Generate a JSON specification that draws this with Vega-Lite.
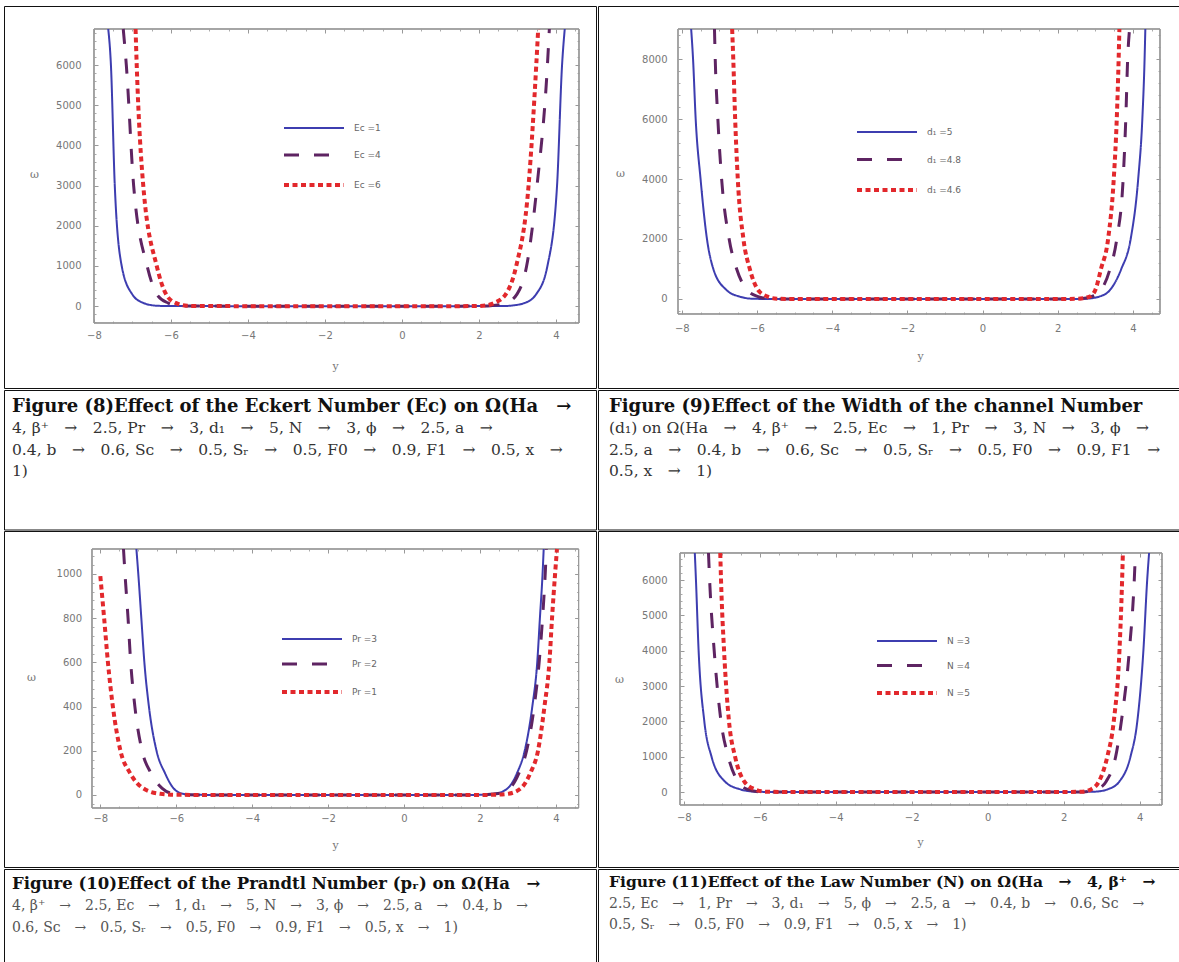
{
"$schema": "https://vega.github.io/schema/vega-lite/v6.json",
"padding": {"left": 3, "top": 5, "right": 0, "bottom": 0},
"background": "white",
"spacing": 0,
"resolve": {"scale": {"color": "independent", "strokeDash": "independent", "strokeWidth": "independent"}, "legend": {"color": "independent", "strokeDash": "independent", "strokeWidth": "independent"}},
"config": {
 "view": {"stroke": "#111", "strokeWidth": 1},
 "concat": {"spacing": 0},
 "axis": {"domain": false, "grid": false, "tickSize": -4, "tickColor": "#999", "labelFont": "DejaVu Sans", "labelFontSize": 10, "labelColor": "#777", "titleFont": "DejaVu Serif", "titleFontSize": 11, "titleFontWeight": "normal", "titleColor": "#777", "labelPadding": 12, "titleAlign": "center", "titleBaseline": "middle", "titleAngle": 0},
 "legend": {"orient": "none", "title": null, "symbolType": "M-6,0H6", "symbolSize": 100, "labelFont": "DejaVu Sans", "labelFontSize": 9, "labelColor": "#666", "labelOffset": 33, "padding": 0}
},
"datasets": {
"f8": [
{"s":"Ec =1","y":-7.63,"w":6900},{"s":"Ec =1","y":-7.56,"w":6000},{"s":"Ec =1","y":-7.46,"w":3000},{"s":"Ec =1","y":-7.28,"w":1000},{"s":"Ec =1","y":-7.01,"w":300},{"s":"Ec =1","y":-6.72,"w":80},{"s":"Ec =1","y":-6.37,"w":10},{"s":"Ec =1","y":-6.0,"w":1},{"s":"Ec =1","y":-4,"w":0},{"s":"Ec =1","y":-2,"w":0},{"s":"Ec =1","y":0,"w":0},{"s":"Ec =1","y":1.5,"w":0},{"s":"Ec =1","y":2.6,"w":1},{"s":"Ec =1","y":2.8,"w":10},{"s":"Ec =1","y":3.19,"w":80},{"s":"Ec =1","y":3.49,"w":300},{"s":"Ec =1","y":3.78,"w":1000},{"s":"Ec =1","y":4.03,"w":3000},{"s":"Ec =1","y":4.16,"w":6000},{"s":"Ec =1","y":4.23,"w":6900},
{"s":"Ec =4","y":-7.24,"w":6900},{"s":"Ec =4","y":-7.16,"w":6000},{"s":"Ec =4","y":-6.97,"w":3000},{"s":"Ec =4","y":-6.62,"w":1000},{"s":"Ec =4","y":-6.37,"w":300},{"s":"Ec =4","y":-6.08,"w":80},{"s":"Ec =4","y":-5.78,"w":10},{"s":"Ec =4","y":-5.4,"w":1},{"s":"Ec =4","y":-4,"w":0},{"s":"Ec =4","y":-2,"w":0},{"s":"Ec =4","y":0,"w":0},{"s":"Ec =4","y":1.5,"w":0},{"s":"Ec =4","y":2.1,"w":1},{"s":"Ec =4","y":2.3,"w":10},{"s":"Ec =4","y":2.7,"w":80},{"s":"Ec =4","y":2.99,"w":300},{"s":"Ec =4","y":3.24,"w":1000},{"s":"Ec =4","y":3.51,"w":3000},{"s":"Ec =4","y":3.78,"w":6000},{"s":"Ec =4","y":3.83,"w":6900},
{"s":"Ec =6","y":-6.92,"w":6900},{"s":"Ec =6","y":-6.89,"w":6000},{"s":"Ec =6","y":-6.72,"w":3000},{"s":"Ec =6","y":-6.37,"w":1000},{"s":"Ec =6","y":-6.13,"w":300},{"s":"Ec =6","y":-5.88,"w":80},{"s":"Ec =6","y":-5.58,"w":10},{"s":"Ec =6","y":-5.2,"w":1},{"s":"Ec =6","y":-4,"w":0},{"s":"Ec =6","y":-2,"w":0},{"s":"Ec =6","y":0,"w":0},{"s":"Ec =6","y":1.5,"w":0},{"s":"Ec =6","y":1.8,"w":1},{"s":"Ec =6","y":2.11,"w":10},{"s":"Ec =6","y":2.4,"w":80},{"s":"Ec =6","y":2.7,"w":300},{"s":"Ec =6","y":2.97,"w":1000},{"s":"Ec =6","y":3.29,"w":3000},{"s":"Ec =6","y":3.49,"w":6000},{"s":"Ec =6","y":3.54,"w":6900}
],
"f9": [
{"s":"d₁ =5","y":-7.75,"w":9000},{"s":"d₁ =5","y":-7.7,"w":8000},{"s":"d₁ =5","y":-7.63,"w":6000},{"s":"d₁ =5","y":-7.5,"w":4000},{"s":"d₁ =5","y":-7.33,"w":2000},{"s":"d₁ =5","y":-7.16,"w":1000},{"s":"d₁ =5","y":-6.81,"w":300},{"s":"d₁ =5","y":-6.46,"w":80},{"s":"d₁ =5","y":-6.12,"w":10},{"s":"d₁ =5","y":-5.7,"w":1},{"s":"d₁ =5","y":-4,"w":0},{"s":"d₁ =5","y":-2,"w":0},{"s":"d₁ =5","y":0,"w":0},{"s":"d₁ =5","y":1.5,"w":0},{"s":"d₁ =5","y":2.4,"w":1},{"s":"d₁ =5","y":2.75,"w":10},{"s":"d₁ =5","y":3.1,"w":80},{"s":"d₁ =5","y":3.39,"w":300},{"s":"d₁ =5","y":3.69,"w":1000},{"s":"d₁ =5","y":3.94,"w":2000},{"s":"d₁ =5","y":4.14,"w":4000},{"s":"d₁ =5","y":4.25,"w":6000},{"s":"d₁ =5","y":4.31,"w":8000},{"s":"d₁ =5","y":4.33,"w":9000},
{"s":"d₁ =4.8","y":-7.13,"w":9000},{"s":"d₁ =4.8","y":-7.11,"w":8000},{"s":"d₁ =4.8","y":-7.04,"w":6000},{"s":"d₁ =4.8","y":-6.94,"w":4000},{"s":"d₁ =4.8","y":-6.74,"w":2000},{"s":"d₁ =4.8","y":-6.54,"w":1000},{"s":"d₁ =4.8","y":-6.26,"w":300},{"s":"d₁ =4.8","y":-5.97,"w":80},{"s":"d₁ =4.8","y":-5.67,"w":10},{"s":"d₁ =4.8","y":-5.3,"w":1},{"s":"d₁ =4.8","y":-4,"w":0},{"s":"d₁ =4.8","y":-2,"w":0},{"s":"d₁ =4.8","y":0,"w":0},{"s":"d₁ =4.8","y":1.5,"w":0},{"s":"d₁ =4.8","y":2.3,"w":1},{"s":"d₁ =4.8","y":2.6,"w":10},{"s":"d₁ =4.8","y":2.9,"w":80},{"s":"d₁ =4.8","y":3.15,"w":300},{"s":"d₁ =4.8","y":3.39,"w":1000},{"s":"d₁ =4.8","y":3.57,"w":2000},{"s":"d₁ =4.8","y":3.74,"w":4000},{"s":"d₁ =4.8","y":3.81,"w":6000},{"s":"d₁ =4.8","y":3.86,"w":8000},{"s":"d₁ =4.8","y":3.91,"w":9000},
{"s":"d₁ =4.6","y":-6.66,"w":9000},{"s":"d₁ =4.6","y":-6.63,"w":8000},{"s":"d₁ =4.6","y":-6.58,"w":6000},{"s":"d₁ =4.6","y":-6.51,"w":4000},{"s":"d₁ =4.6","y":-6.36,"w":2000},{"s":"d₁ =4.6","y":-6.19,"w":1000},{"s":"d₁ =4.6","y":-5.97,"w":300},{"s":"d₁ =4.6","y":-5.72,"w":80},{"s":"d₁ =4.6","y":-5.47,"w":10},{"s":"d₁ =4.6","y":-5.1,"w":1},{"s":"d₁ =4.6","y":-4,"w":0},{"s":"d₁ =4.6","y":-2,"w":0},{"s":"d₁ =4.6","y":0,"w":0},{"s":"d₁ =4.6","y":1.5,"w":0},{"s":"d₁ =4.6","y":2.25,"w":1},{"s":"d₁ =4.6","y":2.55,"w":10},{"s":"d₁ =4.6","y":2.85,"w":80},{"s":"d₁ =4.6","y":3.0,"w":300},{"s":"d₁ =4.6","y":3.15,"w":1000},{"s":"d₁ =4.6","y":3.34,"w":2000},{"s":"d₁ =4.6","y":3.49,"w":4000},{"s":"d₁ =4.6","y":3.57,"w":6000},{"s":"d₁ =4.6","y":3.62,"w":8000},{"s":"d₁ =4.6","y":3.64,"w":9000}
],
"f10": [
{"s":"Pr =3","y":-7.05,"w":1113},{"s":"Pr =3","y":-7.0,"w":1000},{"s":"Pr =3","y":-6.92,"w":800},{"s":"Pr =3","y":-6.84,"w":600},{"s":"Pr =3","y":-6.72,"w":400},{"s":"Pr =3","y":-6.52,"w":200},{"s":"Pr =3","y":-6.3,"w":100},{"s":"Pr =3","y":-6.07,"w":30},{"s":"Pr =3","y":-5.82,"w":5},{"s":"Pr =3","y":-5.5,"w":0.5},{"s":"Pr =3","y":-4,"w":0},{"s":"Pr =3","y":-2,"w":0},{"s":"Pr =3","y":0,"w":0},{"s":"Pr =3","y":1.5,"w":0},{"s":"Pr =3","y":2.0,"w":0.5},{"s":"Pr =3","y":2.38,"w":5},{"s":"Pr =3","y":2.73,"w":30},{"s":"Pr =3","y":2.98,"w":100},{"s":"Pr =3","y":3.18,"w":200},{"s":"Pr =3","y":3.38,"w":400},{"s":"Pr =3","y":3.51,"w":600},{"s":"Pr =3","y":3.58,"w":800},{"s":"Pr =3","y":3.65,"w":1000},{"s":"Pr =3","y":3.68,"w":1113},
{"s":"Pr =2","y":-7.39,"w":1113},{"s":"Pr =2","y":-7.35,"w":1000},{"s":"Pr =2","y":-7.27,"w":800},{"s":"Pr =2","y":-7.2,"w":600},{"s":"Pr =2","y":-7.09,"w":400},{"s":"Pr =2","y":-6.9,"w":200},{"s":"Pr =2","y":-6.67,"w":100},{"s":"Pr =2","y":-6.37,"w":30},{"s":"Pr =2","y":-6.07,"w":5},{"s":"Pr =2","y":-5.7,"w":0.5},{"s":"Pr =2","y":-4,"w":0},{"s":"Pr =2","y":-2,"w":0},{"s":"Pr =2","y":0,"w":0},{"s":"Pr =2","y":1.5,"w":0},{"s":"Pr =2","y":2.05,"w":0.5},{"s":"Pr =2","y":2.43,"w":5},{"s":"Pr =2","y":2.78,"w":30},{"s":"Pr =2","y":3.03,"w":100},{"s":"Pr =2","y":3.23,"w":200},{"s":"Pr =2","y":3.43,"w":400},{"s":"Pr =2","y":3.56,"w":600},{"s":"Pr =2","y":3.65,"w":800},{"s":"Pr =2","y":3.72,"w":1000},{"s":"Pr =2","y":3.75,"w":1113},
{"s":"Pr =1","y":-8.0,"w":990},{"s":"Pr =1","y":-7.9,"w":800},{"s":"Pr =1","y":-7.8,"w":600},{"s":"Pr =1","y":-7.67,"w":400},{"s":"Pr =1","y":-7.47,"w":200},{"s":"Pr =1","y":-7.22,"w":100},{"s":"Pr =1","y":-6.87,"w":30},{"s":"Pr =1","y":-6.42,"w":5},{"s":"Pr =1","y":-6.0,"w":0.5},{"s":"Pr =1","y":-4,"w":0},{"s":"Pr =1","y":-2,"w":0},{"s":"Pr =1","y":0,"w":0},{"s":"Pr =1","y":1.5,"w":0},{"s":"Pr =1","y":2.3,"w":0.5},{"s":"Pr =1","y":2.73,"w":5},{"s":"Pr =1","y":3.08,"w":30},{"s":"Pr =1","y":3.33,"w":100},{"s":"Pr =1","y":3.53,"w":200},{"s":"Pr =1","y":3.7,"w":400},{"s":"Pr =1","y":3.83,"w":600},{"s":"Pr =1","y":3.9,"w":800},{"s":"Pr =1","y":3.98,"w":1000},{"s":"Pr =1","y":4.03,"w":1113}
],
"f11": [
{"s":"N =3","y":-7.71,"w":6765},{"s":"N =3","y":-7.68,"w":6000},{"s":"N =3","y":-7.61,"w":4000},{"s":"N =3","y":-7.46,"w":2000},{"s":"N =3","y":-7.27,"w":1000},{"s":"N =3","y":-6.92,"w":300},{"s":"N =3","y":-6.53,"w":80},{"s":"N =3","y":-6.14,"w":10},{"s":"N =3","y":-5.7,"w":1},{"s":"N =3","y":-4,"w":0},{"s":"N =3","y":-2,"w":0},{"s":"N =3","y":0,"w":0},{"s":"N =3","y":1.5,"w":0},{"s":"N =3","y":2.4,"w":1},{"s":"N =3","y":2.83,"w":10},{"s":"N =3","y":3.17,"w":80},{"s":"N =3","y":3.47,"w":300},{"s":"N =3","y":3.76,"w":1000},{"s":"N =3","y":3.94,"w":2000},{"s":"N =3","y":4.1,"w":4000},{"s":"N =3","y":4.2,"w":6000},{"s":"N =3","y":4.25,"w":6765},
{"s":"N =4","y":-7.35,"w":6765},{"s":"N =4","y":-7.32,"w":6000},{"s":"N =4","y":-7.2,"w":4000},{"s":"N =4","y":-7.02,"w":2000},{"s":"N =4","y":-6.83,"w":1000},{"s":"N =4","y":-6.58,"w":300},{"s":"N =4","y":-6.34,"w":80},{"s":"N =4","y":-6.04,"w":10},{"s":"N =4","y":-5.6,"w":1},{"s":"N =4","y":-4,"w":0},{"s":"N =4","y":-2,"w":0},{"s":"N =4","y":0,"w":0},{"s":"N =4","y":1.5,"w":0},{"s":"N =4","y":2.2,"w":1},{"s":"N =4","y":2.58,"w":10},{"s":"N =4","y":2.88,"w":80},{"s":"N =4","y":3.12,"w":300},{"s":"N =4","y":3.37,"w":1000},{"s":"N =4","y":3.52,"w":2000},{"s":"N =4","y":3.73,"w":4000},{"s":"N =4","y":3.86,"w":6000},{"s":"N =4","y":3.89,"w":6765},
{"s":"N =5","y":-7.04,"w":6765},{"s":"N =5","y":-7.02,"w":6000},{"s":"N =5","y":-6.94,"w":4000},{"s":"N =5","y":-6.81,"w":2000},{"s":"N =5","y":-6.65,"w":1000},{"s":"N =5","y":-6.41,"w":300},{"s":"N =5","y":-6.14,"w":80},{"s":"N =5","y":-5.85,"w":10},{"s":"N =5","y":-5.4,"w":1},{"s":"N =5","y":-4,"w":0},{"s":"N =5","y":-2,"w":0},{"s":"N =5","y":0,"w":0},{"s":"N =5","y":1.5,"w":0},{"s":"N =5","y":2.1,"w":1},{"s":"N =5","y":2.49,"w":10},{"s":"N =5","y":2.73,"w":80},{"s":"N =5","y":2.93,"w":300},{"s":"N =5","y":3.15,"w":1000},{"s":"N =5","y":3.32,"w":2000},{"s":"N =5","y":3.47,"w":4000},{"s":"N =5","y":3.54,"w":6000},{"s":"N =5","y":3.56,"w":6765}
],
"caps": [
{"fig":8,"line":1,"t":"Figure (8)Effect of the Eckert Number (Eᴄ) on Ω(Ha\u2003→"},
{"fig":8,"line":2,"t":"4, β⁺\u2003→\u20032.5, Pr\u2003→\u20033, d₁\u2003→\u20035, N\u2003→\u20033, ϕ\u2003→\u20032.5, a\u2003→"},
{"fig":8,"line":3,"t":"0.4, b\u2003→\u20030.6, Sᴄ\u2003→\u20030.5, Sᵣ\u2003→\u20030.5, F0\u2003→\u20030.9, F1\u2003→\u20030.5, x\u2003→"},
{"fig":8,"line":4,"t":"1)"},
{"fig":9,"line":1,"t":"Figure (9)Effect of the Width of the channel Number"},
{"fig":9,"line":2,"t":"(d₁) on Ω(Ha\u2003→\u20034, β⁺\u2003→\u20032.5, Ec\u2003→\u20031, Pr\u2003→\u20033, N\u2003→\u20033, ϕ\u2003→"},
{"fig":9,"line":3,"t":"2.5, a\u2003→\u20030.4, b\u2003→\u20030.6, Sᴄ\u2003→\u20030.5, Sᵣ\u2003→\u20030.5, F0\u2003→\u20030.9, F1\u2003→"},
{"fig":9,"line":4,"t":"0.5, x\u2003→\u20031)"},
{"fig":10,"line":1,"t":"Figure (10)Effect of the Prandtl Number (pᵣ) on Ω(Ha\u2003→"},
{"fig":10,"line":2,"t":"4, β⁺\u2003→\u20032.5, Ec\u2003→\u20031, d₁\u2003→\u20035, N\u2003→\u20033, ϕ\u2003→\u20032.5, a\u2003→\u20030.4, b\u2003→"},
{"fig":10,"line":3,"t":"0.6, Sᴄ\u2003→\u20030.5, Sᵣ\u2003→\u20030.5, F0\u2003→\u20030.9, F1\u2003→\u20030.5, x\u2003→\u20031)"},
{"fig":11,"line":1,"t":"Figure (11)Effect of the Law Number (N) on Ω(Ha\u2003→\u20034, β⁺\u2003→"},
{"fig":11,"line":2,"t":"2.5, Ec\u2003→\u20031, Pr\u2003→\u20033, d₁\u2003→\u20035, ϕ\u2003→\u20032.5, a\u2003→\u20030.4, b\u2003→\u20030.6, Sᴄ\u2003→"},
{"fig":11,"line":3,"t":"0.5, Sᵣ\u2003→\u20030.5, F0\u2003→\u20030.9, F1\u2003→\u20030.5, x\u2003→\u20031)"}
]
},
"vconcat": [
{"spacing": 0,
 "resolve": {"scale": {"color": "independent", "strokeDash": "independent", "strokeWidth": "independent"}, "legend": {"color": "independent", "strokeDash": "independent", "strokeWidth": "independent"}},
 "hconcat": [
 {"width": 592, "height": 382,
  "layer": [
   {"data": {"values": [{}]},
    "mark": {"type": "rect", "filled": false, "stroke": "#999", "strokeWidth": 1},
    "encoding": {
     "x": {"datum": -8, "type": "quantitative", "scale": {"domain": [-10.338, 5.042], "nice": false, "zero": false}, "axis": {"orient": "top", "offset": -23, "values": [-8,-6,-4,-2,0,2,4], "labels": false, "title": null}},
     "x2": {"datum": 4.6},
     "y": {"datum": -420, "type": "quantitative", "scale": {"domain": [-2038.4, 7472.7], "nice": false, "zero": false}, "axis": {"orient": "right", "offset": -17, "values": [0,1000,2000,3000,4000,5000,6000], "labels": false, "title": null}},
     "y2": {"datum": 6900}}},
   {"data": {"values": [{}]},
    "mark": {"type": "rect", "filled": false, "stroke": "#999", "strokeWidth": 1},
    "encoding": {
     "x": {"datum": -8, "type": "quantitative", "scale": {"domain": [-10.338, 5.042], "nice": false, "zero": false}, "axis": {"orient": "bottom", "offset": -65, "values": [-7.5,-7,-6.5,-5.5,-5,-4.5,-3.5,-3,-2.5,-1.5,-1,-0.5,0.5,1,1.5,2.5,3,3.5,4.5], "labels": false, "title": null, "tickSize": -2, "tickColor": "#aaa"}},
     "x2": {"datum": 4.6},
     "y": {"datum": -420, "type": "quantitative", "scale": {"domain": [-2038.4, 7472.7], "nice": false, "zero": false}, "axis": {"orient": "left", "offset": -90, "values": [-400,-200,200,400,600,800,1200,1400,1600,1800,2200,2400,2600,2800,3200,3400,3600,3800,4200,4400,4600,4800,5200,5400,5600,5800,6200,6400,6600,6800], "labels": false, "title": null, "tickSize": -2, "tickColor": "#aaa"}},
     "y2": {"datum": 6900}}},
   {"data": {"values": [{}]},
    "mark": {"type": "rect", "filled": false, "stroke": "#999", "strokeWidth": 1},
    "encoding": {
     "x": {"datum": -8, "type": "quantitative", "scale": {"domain": [-10.338, 5.042], "nice": false, "zero": false}, "axis": {"orient": "top", "offset": -23, "values": [-7.5,-7,-6.5,-5.5,-5,-4.5,-3.5,-3,-2.5,-1.5,-1,-0.5,0.5,1,1.5,2.5,3,3.5,4.5], "labels": false, "title": null, "tickSize": -2, "tickColor": "#aaa"}},
     "x2": {"datum": 4.6},
     "y": {"datum": -420, "type": "quantitative", "scale": {"domain": [-2038.4, 7472.7], "nice": false, "zero": false}, "axis": {"orient": "right", "offset": -17, "values": [-400,-200,200,400,600,800,1200,1400,1600,1800,2200,2400,2600,2800,3200,3400,3600,3800,4200,4400,4600,4800,5200,5400,5600,5800,6200,6400,6600,6800], "labels": false, "title": null, "tickSize": -2, "tickColor": "#aaa"}},
     "y2": {"datum": 6900}}},
   {"data": {"name": "f8"},
    "mark": {"type": "line", "interpolate": "monotone"},
    "encoding": {
     "x": {"field": "y", "type": "quantitative", "scale": {"domain": [-10.338, 5.042], "nice": false, "zero": false}, "axis": {"orient": "bottom", "offset": -65, "values": [-8,-6,-4,-2,0,2,4], "labelPadding": 11.5, "title": "y", "titleX": 331, "titleY": 43}},
     "y": {"field": "w", "type": "quantitative", "scale": {"domain": [-2038.4, 7472.7], "nice": false, "zero": false}, "axis": {"orient": "left", "offset": -90, "values": [0,1000,2000,3000,4000,5000,6000], "format": "d", "labelPadding": 17, "title": "ω", "titleX": -60, "titleY": 168}},
     "color": {"field": "s", "type": "nominal", "scale": {"domain": ["Ec =1","Ec =4","Ec =6"], "range": ["#3d3db0","#5e2462","#e2282c"]}, "legend": {"legendX": 303, "legendY": 116, "rowPadding": 15.5}},
     "strokeDash": {"field": "s", "type": "nominal", "scale": {"domain": ["Ec =1","Ec =4","Ec =6"], "range": [[1,0],[15,15],[5,3.5]]}, "legend": {"legendX": 303, "legendY": 116, "rowPadding": 15.5}},
     "strokeWidth": {"field": "s", "type": "nominal", "scale": {"domain": ["Ec =1","Ec =4","Ec =6"], "range": [2,4,3.5]}, "legend": {"legendX": 303, "legendY": 116, "rowPadding": 15.5}}}}
  ],
  "resolve": {"axis": {"x": "independent", "y": "independent"}}},
 {"width": 582, "height": 382,
  "layer": [
   {"data": {"values": [{}]},
    "mark": {"type": "rect", "filled": false, "stroke": "#999", "strokeWidth": 1},
    "encoding": {
     "x": {"datum": -8.1, "type": "quantitative", "scale": {"domain": [-10.228, 5.252], "nice": false, "zero": false}, "axis": {"orient": "top", "offset": -23, "values": [-8,-6,-4,-2,0,2,4], "labels": false, "title": null}},
     "x2": {"datum": 4.72},
     "y": {"datum": -500, "type": "quantitative", "scale": {"domain": [-2966.7, 9766.7], "nice": false, "zero": false}, "axis": {"orient": "right", "offset": -20, "values": [0,2000,4000,6000,8000], "labels": false, "title": null}},
     "y2": {"datum": 9000}}},
   {"data": {"values": [{}]},
    "mark": {"type": "rect", "filled": false, "stroke": "#999", "strokeWidth": 1},
    "encoding": {
     "x": {"datum": -8.1, "type": "quantitative", "scale": {"domain": [-10.228, 5.252], "nice": false, "zero": false}, "axis": {"orient": "bottom", "offset": -74, "values": [-7.5,-7,-6.5,-5.5,-5,-4.5,-3.5,-3,-2.5,-1.5,-1,-0.5,0.5,1,1.5,2.5,3,3.5,4.5], "labels": false, "title": null, "tickSize": -2, "tickColor": "#aaa"}},
     "x2": {"datum": 4.72},
     "y": {"datum": -500, "type": "quantitative", "scale": {"domain": [-2966.7, 9766.7], "nice": false, "zero": false}, "axis": {"orient": "left", "offset": -80, "values": [-400,400,800,1200,1600,2400,2800,3200,3600,4400,4800,5200,5600,6400,6800,7200,7600,8400,8800], "labels": false, "title": null, "tickSize": -2, "tickColor": "#aaa"}},
     "y2": {"datum": 9000}}},
   {"data": {"values": [{}]},
    "mark": {"type": "rect", "filled": false, "stroke": "#999", "strokeWidth": 1},
    "encoding": {
     "x": {"datum": -8.1, "type": "quantitative", "scale": {"domain": [-10.228, 5.252], "nice": false, "zero": false}, "axis": {"orient": "top", "offset": -23, "values": [-7.5,-7,-6.5,-5.5,-5,-4.5,-3.5,-3,-2.5,-1.5,-1,-0.5,0.5,1,1.5,2.5,3,3.5,4.5], "labels": false, "title": null, "tickSize": -2, "tickColor": "#aaa"}},
     "x2": {"datum": 4.72},
     "y": {"datum": -500, "type": "quantitative", "scale": {"domain": [-2966.7, 9766.7], "nice": false, "zero": false}, "axis": {"orient": "right", "offset": -20, "values": [-400,400,800,1200,1600,2400,2800,3200,3600,4400,4800,5200,5600,6400,6800,7200,7600,8400,8800], "labels": false, "title": null, "tickSize": -2, "tickColor": "#aaa"}},
     "y2": {"datum": 9000}}},
   {"data": {"name": "f9"},
    "mark": {"type": "line", "interpolate": "monotone"},
    "encoding": {
     "x": {"field": "y", "type": "quantitative", "scale": {"domain": [-10.228, 5.252], "nice": false, "zero": false}, "axis": {"orient": "bottom", "offset": -74, "values": [-8,-6,-4,-2,0,2,4], "labelPadding": 13.5, "title": "y", "titleX": 322, "titleY": 42}},
     "y": {"field": "w", "type": "quantitative", "scale": {"domain": [-2966.7, 9766.7], "nice": false, "zero": false}, "axis": {"orient": "left", "offset": -80, "values": [0,2000,4000,6000,8000], "format": "d", "labelPadding": 15, "title": "ω", "titleX": -58, "titleY": 167}},
     "color": {"field": "s", "type": "nominal", "scale": {"domain": ["d₁ =5","d₁ =4.8","d₁ =4.6"], "range": ["#3d3db0","#5e2462","#e2282c"]}, "legend": {"legendX": 282, "legendY": 120, "rowPadding": 16}},
     "strokeDash": {"field": "s", "type": "nominal", "scale": {"domain": ["d₁ =5","d₁ =4.8","d₁ =4.6"], "range": [[1,0],[15,15],[5,3.5]]}, "legend": {"legendX": 282, "legendY": 120, "rowPadding": 16}},
     "strokeWidth": {"field": "s", "type": "nominal", "scale": {"domain": ["d₁ =5","d₁ =4.8","d₁ =4.6"], "range": [2,4,3.5]}, "legend": {"legendX": 282, "legendY": 120, "rowPadding": 16}}}}
  ],
  "resolve": {"axis": {"x": "independent", "y": "independent"}}}
]},
{"spacing": 0, "hconcat": [
 {"width": 592, "height": 139.5,
  "data": {"name": "caps"},
  "transform": [{"filter": "datum.fig == 8"}],
  "encoding": {"y": {"field": "line", "type": "quantitative", "scale": {"domain": [0.2093, 6.698], "reverse": true}, "axis": null}, "x": {"value": 8}, "text": {"field": "t"}},
  "layer": [
   {"transform": [{"filter": "datum.line == 1"}], "mark": {"type": "text", "align": "left", "baseline": "middle", "font": "DejaVu Serif", "fontSize": 18, "fontWeight": "bold", "color": "#111"}},
   {"transform": [{"filter": "datum.line > 1"}], "mark": {"type": "text", "align": "left", "baseline": "middle", "font": "DejaVu Serif", "fontSize": 15.5, "color": "#333"}}
  ]},
 {"width": 582, "height": 139.5,
  "data": {"name": "caps"},
  "transform": [{"filter": "datum.fig == 9"}],
  "encoding": {"y": {"field": "line", "type": "quantitative", "scale": {"domain": [0.2093, 6.698], "reverse": true}, "axis": null}, "x": {"value": 11}, "text": {"field": "t"}},
  "layer": [
   {"transform": [{"filter": "datum.line == 1"}], "mark": {"type": "text", "align": "left", "baseline": "middle", "font": "DejaVu Serif", "fontSize": 18, "fontWeight": "bold", "color": "#111"}},
   {"transform": [{"filter": "datum.line > 1"}], "mark": {"type": "text", "align": "left", "baseline": "middle", "font": "DejaVu Serif", "fontSize": 15.5, "color": "#333"}}
  ]}
]},
{"spacing": 0,
 "resolve": {"scale": {"color": "independent", "strokeDash": "independent", "strokeWidth": "independent"}, "legend": {"color": "independent", "strokeDash": "independent", "strokeWidth": "independent"}},
 "hconcat": [
 {"width": 592, "height": 336,
  "layer": [
   {"data": {"values": [{}]},
    "mark": {"type": "rect", "filled": false, "stroke": "#999", "strokeWidth": 1},
    "encoding": {
     "x": {"datum": -8.22, "type": "quantitative", "scale": {"domain": [-10.538, 5.058], "nice": false, "zero": false}, "axis": {"orient": "top", "offset": -18, "values": [-8,-6,-4,-2,0,2,4], "labels": false, "title": null}},
     "x2": {"datum": 4.6},
     "y": {"datum": -59, "type": "quantitative", "scale": {"domain": [-326, 1194.5], "nice": false, "zero": false}, "axis": {"orient": "right", "offset": -17.4, "values": [0,200,400,600,800,1000], "labels": false, "title": null}},
     "y2": {"datum": 1113}}},
   {"data": {"values": [{}]},
    "mark": {"type": "rect", "filled": false, "stroke": "#999", "strokeWidth": 1},
    "encoding": {
     "x": {"datum": -8.22, "type": "quantitative", "scale": {"domain": [-10.538, 5.058], "nice": false, "zero": false}, "axis": {"orient": "bottom", "offset": -59, "values": [-7.5,-7,-6.5,-5.5,-5,-4.5,-3.5,-3,-2.5,-1.5,-1,-0.5,0.5,1,1.5,2.5,3,3.5,4.5], "labels": false, "title": null, "tickSize": -2, "tickColor": "#aaa"}},
     "x2": {"datum": 4.6},
     "y": {"datum": -59, "type": "quantitative", "scale": {"domain": [-326, 1194.5], "nice": false, "zero": false}, "axis": {"orient": "left", "offset": -88, "values": [-40,40,80,120,160,240,280,320,360,440,480,520,560,640,680,720,760,840,880,920,960,1040,1080], "labels": false, "title": null, "tickSize": -2, "tickColor": "#aaa"}},
     "y2": {"datum": 1113}}},
   {"data": {"values": [{}]},
    "mark": {"type": "rect", "filled": false, "stroke": "#999", "strokeWidth": 1},
    "encoding": {
     "x": {"datum": -8.22, "type": "quantitative", "scale": {"domain": [-10.538, 5.058], "nice": false, "zero": false}, "axis": {"orient": "top", "offset": -18, "values": [-7.5,-7,-6.5,-5.5,-5,-4.5,-3.5,-3,-2.5,-1.5,-1,-0.5,0.5,1,1.5,2.5,3,3.5,4.5], "labels": false, "title": null, "tickSize": -2, "tickColor": "#aaa"}},
     "x2": {"datum": 4.6},
     "y": {"datum": -59, "type": "quantitative", "scale": {"domain": [-326, 1194.5], "nice": false, "zero": false}, "axis": {"orient": "right", "offset": -17.4, "values": [-40,40,80,120,160,240,280,320,360,440,480,520,560,640,680,720,760,840,880,920,960,1040,1080], "labels": false, "title": null, "tickSize": -2, "tickColor": "#aaa"}},
     "y2": {"datum": 1113}}},
   {"data": {"name": "f10"},
    "mark": {"type": "line", "interpolate": "monotone"},
    "encoding": {
     "x": {"field": "y", "type": "quantitative", "scale": {"domain": [-10.538, 5.058], "nice": false, "zero": false}, "axis": {"orient": "bottom", "offset": -59, "values": [-8,-6,-4,-2,0,2,4], "labelPadding": 9.5, "title": "y", "titleX": 331, "titleY": 37}},
     "y": {"field": "w", "type": "quantitative", "scale": {"domain": [-326, 1194.5], "nice": false, "zero": false}, "axis": {"orient": "left", "offset": -88, "values": [0,200,400,600,800,1000], "format": "d", "labelPadding": 14.5, "title": "ω", "titleX": -61, "titleY": 146}},
     "color": {"field": "s", "type": "nominal", "scale": {"domain": ["Pr =3","Pr =2","Pr =1"], "range": ["#3d3db0","#5e2462","#e2282c"]}, "legend": {"legendX": 301, "legendY": 102, "rowPadding": 13.5}},
     "strokeDash": {"field": "s", "type": "nominal", "scale": {"domain": ["Pr =3","Pr =2","Pr =1"], "range": [[1,0],[15,15],[5,3.5]]}, "legend": {"legendX": 301, "legendY": 102, "rowPadding": 13.5}},
     "strokeWidth": {"field": "s", "type": "nominal", "scale": {"domain": ["Pr =3","Pr =2","Pr =1"], "range": [2,4,3.5]}, "legend": {"legendX": 301, "legendY": 102, "rowPadding": 13.5}}}}
  ],
  "resolve": {"axis": {"x": "independent", "y": "independent"}}},
 {"width": 582, "height": 336,
  "layer": [
   {"data": {"values": [{}]},
    "mark": {"type": "rect", "filled": false, "stroke": "#999", "strokeWidth": 1},
    "encoding": {
     "x": {"datum": -8.1, "type": "quantitative", "scale": {"domain": [-10.259, 5.064], "nice": false, "zero": false}, "axis": {"orient": "top", "offset": -22, "values": [-8,-6,-4,-2,0,2,4], "labels": false, "title": null}},
     "x2": {"datum": 4.59},
     "y": {"datum": -368, "type": "quantitative", "scale": {"domain": [-2122.9, 7387.7], "nice": false, "zero": false}, "axis": {"orient": "right", "offset": -18, "values": [0,1000,2000,3000,4000,5000,6000], "labels": false, "title": null}},
     "y2": {"datum": 6765}}},
   {"data": {"values": [{}]},
    "mark": {"type": "rect", "filled": false, "stroke": "#999", "strokeWidth": 1},
    "encoding": {
     "x": {"datum": -8.1, "type": "quantitative", "scale": {"domain": [-10.259, 5.064], "nice": false, "zero": false}, "axis": {"orient": "bottom", "offset": -62, "values": [-7.5,-7,-6.5,-5.5,-5,-4.5,-3.5,-3,-2.5,-1.5,-1,-0.5,0.5,1,1.5,2.5,3,3.5,4.5], "labels": false, "title": null, "tickSize": -2, "tickColor": "#aaa"}},
     "x2": {"datum": 4.59},
     "y": {"datum": -368, "type": "quantitative", "scale": {"domain": [-2122.9, 7387.7], "nice": false, "zero": false}, "axis": {"orient": "left", "offset": -82, "values": [-200,200,400,600,800,1200,1400,1600,1800,2200,2400,2600,2800,3200,3400,3600,3800,4200,4400,4600,4800,5200,5400,5600,5800,6200,6400,6600], "labels": false, "title": null, "tickSize": -2, "tickColor": "#aaa"}},
     "y2": {"datum": 6765}}},
   {"data": {"values": [{}]},
    "mark": {"type": "rect", "filled": false, "stroke": "#999", "strokeWidth": 1},
    "encoding": {
     "x": {"datum": -8.1, "type": "quantitative", "scale": {"domain": [-10.259, 5.064], "nice": false, "zero": false}, "axis": {"orient": "top", "offset": -22, "values": [-7.5,-7,-6.5,-5.5,-5,-4.5,-3.5,-3,-2.5,-1.5,-1,-0.5,0.5,1,1.5,2.5,3,3.5,4.5], "labels": false, "title": null, "tickSize": -2, "tickColor": "#aaa"}},
     "x2": {"datum": 4.59},
     "y": {"datum": -368, "type": "quantitative", "scale": {"domain": [-2122.9, 7387.7], "nice": false, "zero": false}, "axis": {"orient": "right", "offset": -18, "values": [-200,200,400,600,800,1200,1400,1600,1800,2200,2400,2600,2800,3200,3400,3600,3800,4200,4400,4600,4800,5200,5400,5600,5800,6200,6400,6600], "labels": false, "title": null, "tickSize": -2, "tickColor": "#aaa"}},
     "y2": {"datum": 6765}}},
   {"data": {"name": "f11"},
    "mark": {"type": "line", "interpolate": "monotone"},
    "encoding": {
     "x": {"field": "y", "type": "quantitative", "scale": {"domain": [-10.259, 5.064], "nice": false, "zero": false}, "axis": {"orient": "bottom", "offset": -62, "values": [-8,-6,-4,-2,0,2,4], "labelPadding": 11.5, "title": "y", "titleX": 322, "titleY": 37}},
     "y": {"field": "w", "type": "quantitative", "scale": {"domain": [-2122.9, 7387.7], "nice": false, "zero": false}, "axis": {"orient": "left", "offset": -82, "values": [0,1000,2000,3000,4000,5000,6000], "format": "d", "labelPadding": 17, "title": "ω", "titleX": -61, "titleY": 148}},
     "color": {"field": "s", "type": "nominal", "scale": {"domain": ["N =3","N =4","N =5"], "range": ["#3d3db0","#5e2462","#e2282c"]}, "legend": {"legendX": 302, "legendY": 104, "rowPadding": 13}},
     "strokeDash": {"field": "s", "type": "nominal", "scale": {"domain": ["N =3","N =4","N =5"], "range": [[1,0],[15,15],[5,3.5]]}, "legend": {"legendX": 302, "legendY": 104, "rowPadding": 13}},
     "strokeWidth": {"field": "s", "type": "nominal", "scale": {"domain": ["N =3","N =4","N =5"], "range": [2,4,3.5]}, "legend": {"legendX": 302, "legendY": 104, "rowPadding": 13}}}}
  ],
  "resolve": {"axis": {"x": "independent", "y": "independent"}}}
]},
{"spacing": 0, "hconcat": [
 {"width": 592, "height": 100,
  "data": {"name": "caps"},
  "transform": [{"filter": "datum.fig == 10"}],
  "encoding": {"y": {"field": "line", "type": "quantitative", "scale": {"domain": [0.3103, 4.908], "reverse": true}, "axis": null}, "x": {"value": 8}, "text": {"field": "t"}},
  "layer": [
   {"transform": [{"filter": "datum.line == 1"}], "mark": {"type": "text", "align": "left", "baseline": "middle", "font": "DejaVu Serif", "fontSize": 16.5, "fontWeight": "bold", "color": "#111"}},
   {"transform": [{"filter": "datum.line > 1"}], "mark": {"type": "text", "align": "left", "baseline": "middle", "font": "DejaVu Serif", "fontSize": 14, "color": "#555"}}
  ]},
 {"width": 582, "height": 100,
  "data": {"name": "caps"},
  "transform": [{"filter": "datum.fig == 11"}],
  "encoding": {"y": {"field": "line", "type": "quantitative", "scale": {"domain": [0.3953, 5.0465], "reverse": true}, "axis": null}, "x": {"value": 11}, "text": {"field": "t"}},
  "layer": [
   {"transform": [{"filter": "datum.line == 1"}], "mark": {"type": "text", "align": "left", "baseline": "middle", "font": "DejaVu Serif", "fontSize": 15.5, "fontWeight": "bold", "color": "#111"}},
   {"transform": [{"filter": "datum.line > 1"}], "mark": {"type": "text", "align": "left", "baseline": "middle", "font": "DejaVu Serif", "fontSize": 14, "color": "#555"}}
  ]}
]}
]
}
